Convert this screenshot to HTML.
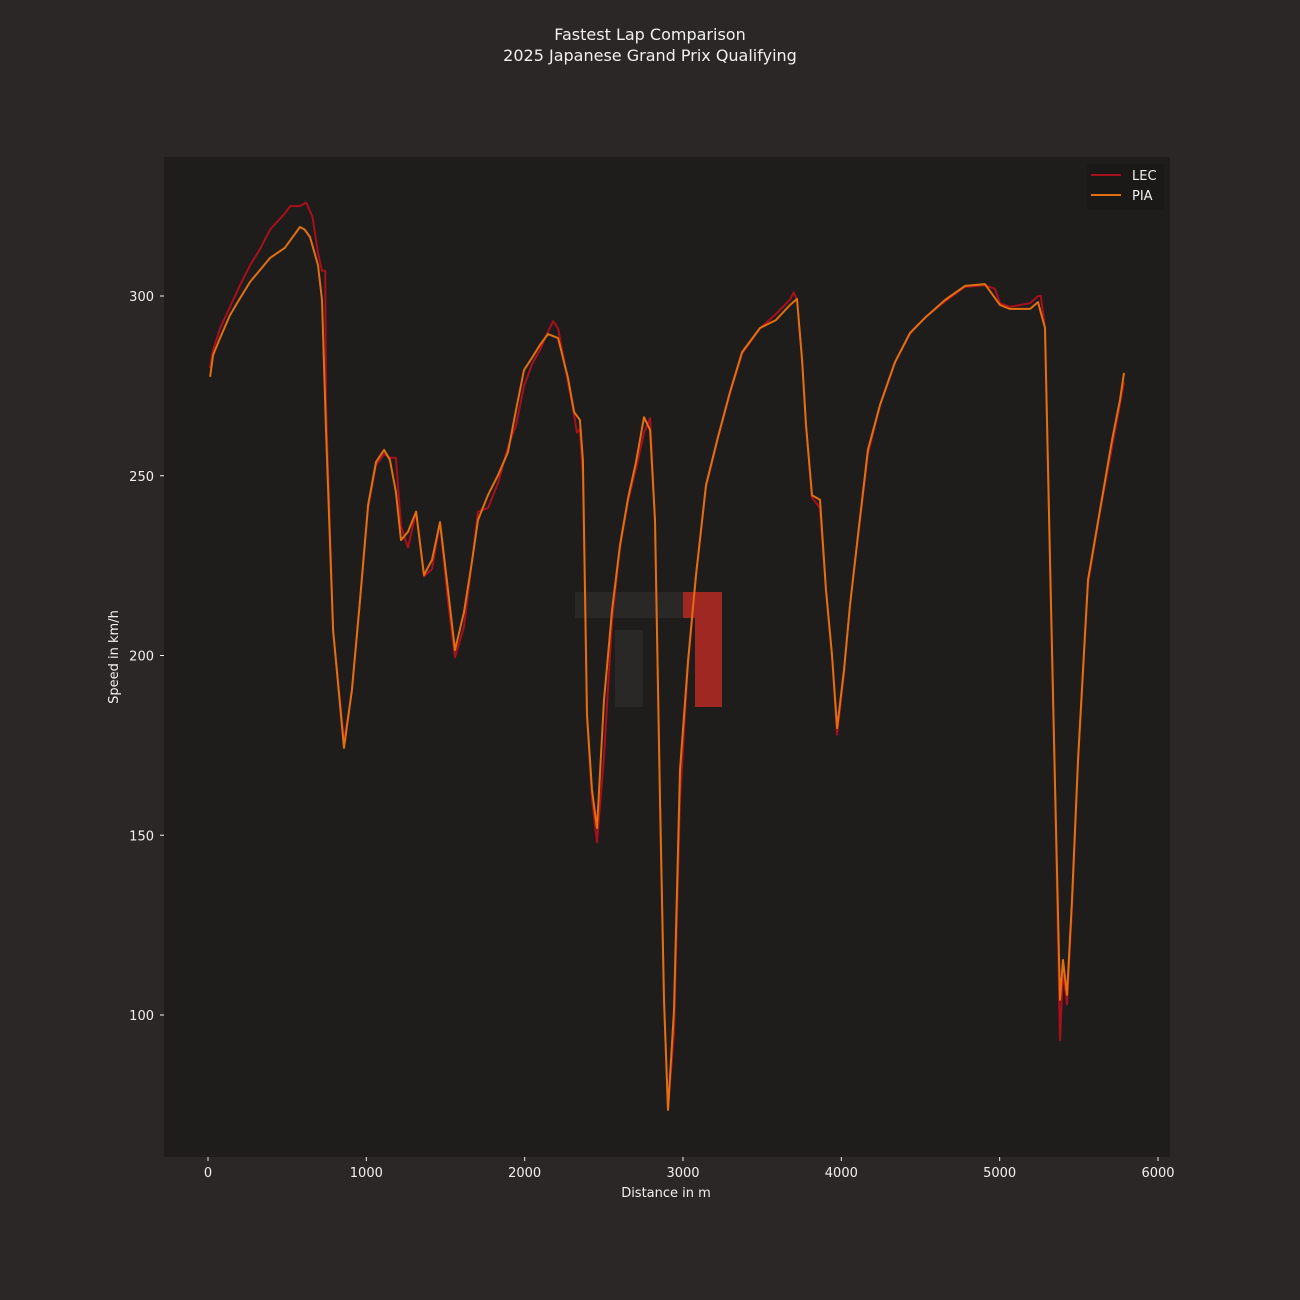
<!DOCTYPE html>
<html><head><meta charset="utf-8"><style>
html,body{margin:0;padding:0;background:#2b2726;}
svg{display:block;font-family:"DejaVu Sans","Liberation Sans",sans-serif;}
</style></head><body>
<svg id="chart" width="1300" height="1300" xmlns="http://www.w3.org/2000/svg">
<rect width="1300" height="1300" fill="#2b2726"/>
<text x="650" y="40" text-anchor="middle" fill="#f0f0f0" font-size="16">Fastest Lap Comparison</text>
<text x="650" y="61" text-anchor="middle" fill="#f0f0f0" font-size="16">2025 Japanese Grand Prix Qualifying</text>
<rect x="164" y="157" width="1006" height="1000" fill="#1e1d1c"/>
<g>
<rect x="575" y="592" width="108" height="26" fill="#2a2827"/>
<rect x="615" y="630" width="28" height="77" fill="#2a2827"/>
<rect x="683" y="592" width="39" height="26" fill="#a02822"/>
<rect x="695" y="592" width="27" height="115" fill="#a02822"/>
</g>
<g id="axes"></g>
<g id="series"></g>
<text x="666" y="1197" text-anchor="middle" fill="#f0f0f0" font-size="13">Distance in m</text>
<text transform="translate(118,657) rotate(-90)" text-anchor="middle" fill="#f0f0f0" font-size="13">Speed in km/h</text>
<g>
<rect x="1087" y="164" width="77" height="46" fill="#1a1918" opacity="0.8"/>
<line x1="1091" y1="175" x2="1121" y2="175" stroke="#a8101c" stroke-width="2"/>
<text x="1132" y="180" fill="#f0f0f0" font-size="13">LEC</text>
<line x1="1091" y1="195" x2="1121" y2="195" stroke="#e07010" stroke-width="2"/>
<text x="1132" y="200" fill="#f0f0f0" font-size="13">PIA</text>
</g>
</svg>
<script>
const xTicks=[0,1000,2000,3000,4000,5000,6000];
const yTicks=[100,150,200,250,300];
const piaDist=[13,32,76,139,202,265,328,392,486,530,581,610,644,695,720,745,790,859,909,960,1011,1061,1112,1149,1187,1219,1263,1314,1364,1415,1465,1516,1560,1617,1667,1705,1768,1832,1895,1945,1996,2046,2097,2147,2211,2274,2312,2349,2368,2394,2425,2457,2501,2552,2602,2653,2703,2754,2792,2823,2855,2880,2905,2943,2981,3032,3082,3145,3221,3297,3373,3486,3587,3676,3720,3752,3777,3815,3865,3903,3941,3973,4017,4055,4105,4168,4244,4339,4434,4528,4655,4781,4907,5002,5065,5192,5242,5286,5318,5349,5381,5400,5425,5457,5495,5558,5634,5710,5760,5785];
const piaSpeed=[277.5,283.6,288.3,294.7,299.4,303.9,307.2,310.6,313.4,316.1,319.2,318.5,316.4,308.6,298.9,262.7,207,174.3,190.4,215.4,241.9,253.8,257.2,254.4,245.5,232.1,234.4,240,222.4,226.6,237.1,218.2,201.5,212.1,226,237.7,244.6,250.2,256.6,268.3,279.4,282.8,286.4,289.4,288.3,277.2,267.7,265.5,254.4,183.4,162.6,152,187.6,212.7,230.7,243.8,253.8,266.3,262.7,237.7,159.8,104.2,73.6,101.4,168.1,198.7,222.4,247.4,260.8,273.3,284.4,291.1,293.3,297.5,299.2,282.2,264.1,244.6,243.3,218.2,200.1,179.8,196,214,233.5,257.2,269.7,281.6,289.7,293.9,298.9,302.8,303.3,297.5,296.4,296.4,298.3,291.1,226.6,165.4,104.2,115.3,105.6,132,170.9,221,240.5,260,271.1,278.6];
const lecDist=[13,32,76,139,202,265,328,392,486,520,581,620,660,695,720,740,745,790,859,909,960,1011,1061,1112,1149,1187,1219,1263,1314,1364,1415,1465,1516,1560,1617,1667,1705,1768,1832,1895,1945,1996,2046,2097,2147,2180,2211,2274,2312,2330,2349,2368,2394,2425,2457,2501,2552,2602,2653,2703,2754,2792,2823,2855,2880,2905,2943,2981,3032,3082,3145,3221,3297,3373,3486,3587,3676,3700,3720,3752,3777,3815,3865,3903,3941,3973,4017,4055,4105,4168,4244,4339,4434,4528,4655,4781,4907,4970,5002,5065,5192,5242,5260,5286,5318,5349,5381,5400,5425,5457,5495,5558,5634,5710,5760,5785];
const lecSpeed=[280,285,291,297,303,308.5,313,318.5,323,325,325,326,322,312,307,307,270,207,176,190,215,241,253,256,255,255,236,230,240,222,224,237,215,199.5,208,226,240,241,248,258,264,275,281,285,290,293,291,276,267,262,263,250,183,160,148,172,210,230,243,252,262,266,237,160,104,73.6,95,160,198,222,247,260.5,273,284,291,295,299,301,299,282,264,244,241,218,200,178,195,214,233,256,269.5,281.5,289.5,294,298.5,302.5,303,302,298,297,298,300,300,291,226,165,93,112,103,130,170,220,240,258,270,276];
const X=d=>208+d*950/6000;
const Y=v=>296+(300-v)*719/200;
const ns="http://www.w3.org/2000/svg";
const axes=document.getElementById('axes');
xTicks.forEach(t=>{
  const l=document.createElementNS(ns,'line');
  l.setAttribute('x1',X(t));l.setAttribute('x2',X(t));l.setAttribute('y1',1157);l.setAttribute('y2',1161);
  l.setAttribute('stroke','#f0f0f0');
  
  
  axes.appendChild(l);
  const tx=document.createElementNS(ns,'text');
  tx.setAttribute('x',X(t));tx.setAttribute('y',1177);tx.setAttribute('text-anchor','middle');
  tx.setAttribute('fill','#f0f0f0');tx.setAttribute('font-size','13');tx.textContent=t;
  
  
  axes.appendChild(tx);
});
yTicks.forEach(t=>{
  const l=document.createElementNS(ns,'line');
  l.setAttribute('x1',160);l.setAttribute('x2',164);l.setAttribute('y1',Y(t));l.setAttribute('y2',Y(t));
  l.setAttribute('stroke','#f0f0f0');
  
  
  axes.appendChild(l);
  const tx=document.createElementNS(ns,'text');
  tx.setAttribute('x',154);tx.setAttribute('y',Y(t)+5);tx.setAttribute('text-anchor','end');
  tx.setAttribute('fill','#f0f0f0');tx.setAttribute('font-size','13');tx.textContent=t;
  
  
  axes.appendChild(tx);
});
const series=document.getElementById('series');
function draw(dist,speed,color,name){
  const p=document.createElementNS(ns,'path');
  p.setAttribute('d',dist.map((d,i)=>(i?'L':'M')+X(d).toFixed(1)+','+Y(speed[i]).toFixed(1)).join(''));
  p.setAttribute('fill','none');p.setAttribute('stroke',color);p.setAttribute('stroke-width','2');
  p.setAttribute('stroke-linejoin','round');
  
  
  series.appendChild(p);
}
draw(lecDist,lecSpeed,'#a8101c','lec-speed-line');
draw(piaDist,piaSpeed,'#e07010','pia-speed-line');
</script>
</body></html>
